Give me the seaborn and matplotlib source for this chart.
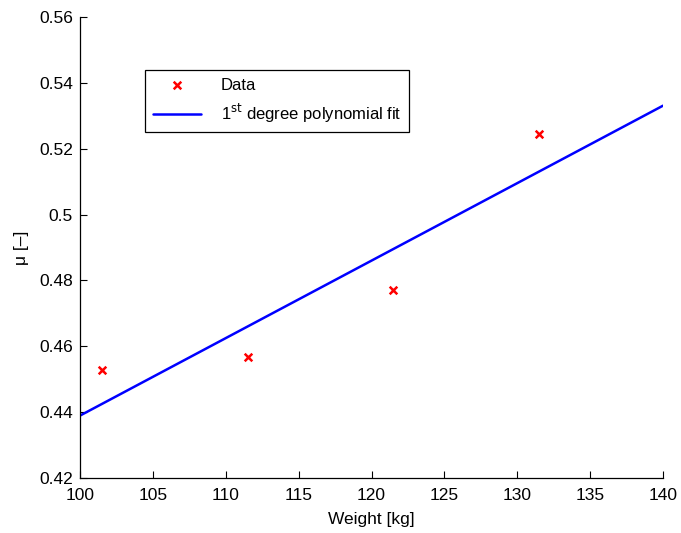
import numpy as np
import pandas as pd
import seaborn as sns
import matplotlib
matplotlib.use("Agg")
import matplotlib.pyplot as plt

weight = [101.5, 111.5, 121.5, 131.5]
mu = [0.4528, 0.4568, 0.4770, 0.5245]
xticks = [100, 105, 110, 115, 120, 125, 130, 135, 140]
yticks = [0.42, 0.44, 0.46, 0.48, 0.50, 0.52, 0.54, 0.56]
ytick_labels = ["0.42", "0.44", "0.46", "0.48", "0.5", "0.52", "0.54", "0.56"]

sns.set_theme(style="white")
plt.rcParams['font.family'] = ['Liberation Sans', 'DejaVu Sans']
plt.rcParams['xtick.direction'] = 'in'
plt.rcParams['ytick.direction'] = 'in'
plt.rcParams['text.color'] = 'black'
plt.rcParams['axes.labelcolor'] = 'black'
plt.rcParams['xtick.color'] = 'black'
plt.rcParams['ytick.color'] = 'black'

df = pd.DataFrame({"Weight": weight, "mu": mu})
coef = np.polyfit(weight, mu, 1)
x_line = np.array([xticks[0], xticks[-1]])
fit_df = pd.DataFrame({"Weight": x_line, "mu": np.polyval(coef, x_line)})

fig = plt.figure(figsize=(6.81, 5.33), dpi=100)
ax = fig.add_axes([80/681, 1 - 478/533, 583/681, 461/533])

sns.scatterplot(data=df, x="Weight", y="mu", marker="x", color="red", s=30,
                linewidth=1.8, ax=ax, label="Data", zorder=3)
sns.lineplot(data=fit_df, x="Weight", y="mu", color="blue", linewidth=1.8,
             ax=ax, label=r"1$^{\mathrm{st}}$ degree polynomial fit")

ax.set_xlim(100, 140)
ax.set_ylim(0.42, 0.56)
ax.set_xticks(xticks)
ax.set_yticks(yticks)
ax.set_yticklabels(ytick_labels)
ax.tick_params(axis='both', labelsize=12.5, length=5, width=0.8, color='black',
               labelcolor='black', bottom=True, left=True)
ax.tick_params(axis='x', pad=7)
ax.tick_params(axis='y', pad=5)
for s in ['top', 'right']:
    ax.spines[s].set_visible(False)
for s in ['left', 'bottom']:
    ax.spines[s].set_color('black')
    ax.spines[s].set_linewidth(0.9)
ax.set_xlabel("Weight [kg]", fontsize=12.5, labelpad=7)
ax.set_ylabel("μ [–]", fontsize=12.5, labelpad=7)

leg = ax.legend(loc='upper left', bbox_to_anchor=(65/583, 408/461), fontsize=12,
                frameon=True, fancybox=False, edgecolor='black', framealpha=1,
                borderaxespad=0, borderpad=0.45, labelspacing=0.55,
                handlelength=2.9, handletextpad=1.2)
leg.get_frame().set_linewidth(0.9)
for t in leg.get_texts():
    t.set_color('black')

fig.savefig("out.png", dpi=100, facecolor="white")
